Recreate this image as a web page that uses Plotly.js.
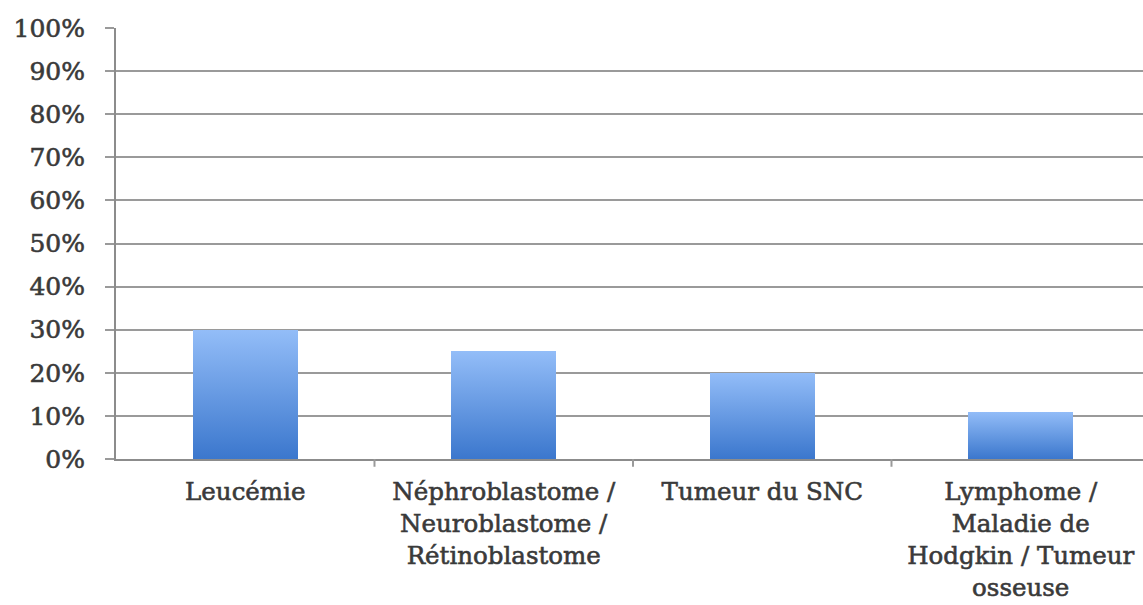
<!DOCTYPE html>
<html>
<head>
<meta charset="utf-8">
<script src="https://cdn.plot.ly/plotly-3.0.1.min.js"></script>
<style>
html,body{margin:0;padding:0;background:#fff;}
#chart{width:1143px;height:605px;}
#chart .xtick text, #chart .ytick text { stroke: #3a3a3a; stroke-width: 0.6px; }
</style>
</head>
<body>
<div id="chart"></div>
<script>
const categories = [
  "Leucémie",
  "Néphroblastome /<br>Neuroblastome /<br>Rétinoblastome",
  "Tumeur du SNC",
  "Lymphome /<br>Maladie de<br>Hodgkin / Tumeur<br>osseuse"
];
const values = [0.30, 0.25, 0.20, 0.11];
const yTickVals = [0, 0.1, 0.2, 0.3, 0.4, 0.5, 0.6, 0.7, 0.8, 0.9, 1.0];
const yTickText = ["0%", "10%", "20%", "30%", "40%", "50%", "60%", "70%", "80%", "90%", "100%"];

const yfont = {family: "DejaVu Serif", size: 25, color: "#3a3a3a"};
const xfont = {family: "DejaVu Serif", size: 24.5, color: "#3a3a3a"};

const data = [{
  type: "bar",
  x: [0, 1, 2, 3],
  y: values,
  width: 0.405,
  marker: {color: "#6a9be2", line: {width: 0}},
  hoverinfo: "none"
}];

const layout = {
  width: 1143, height: 605,
  margin: {l: 116, r: 0, t: 28, b: 146},
  paper_bgcolor: "#ffffff",
  plot_bgcolor: "#ffffff",
  showlegend: false,
  bargap: 0,
  font: yfont,
  xaxis: {
    range: [-0.5, 3.473],
    tickmode: "array",
    tickvals: [0, 1, 2, 3],
    ticktext: categories,
    showgrid: false,
    zeroline: false,
    showline: true,
    linecolor: "#8c8c8c",
    linewidth: 2,
    ticks: "",
    ticklabelstandoff: 10,
    tickfont: xfont,
    fixedrange: true
  },
  yaxis: {
    range: [0, 1],
    tickmode: "array",
    tickvals: yTickVals,
    ticktext: yTickText,
    showgrid: true,
    gridcolor: "#9a9a9a",
    gridwidth: 2,
    zeroline: false,
    showline: true,
    linecolor: "#8c8c8c",
    linewidth: 2,
    ticks: "outside",
    ticklen: 9,
    tickwidth: 2,
    tickcolor: "#9a9a9a",
    ticklabelstandoff: 15,
    tickfont: yfont,
    fixedrange: true
  },
  shapes: [0.5, 1.5, 2.5, 3.5].map(v => ({
    type: "line", xref: "x", yref: "paper", x0: v, x1: v, y0: 0, y1: -0.018,
    line: {color: "#9a9a9a", width: 2}
  }))
};

Plotly.newPlot("chart", data, layout, {staticPlot: true, displayModeBar: false}).then(gd => {
  const svg = gd.querySelector("svg.main-svg");
  const ns = "http://www.w3.org/2000/svg";
  let defs = svg.querySelector("defs");
  if (!defs) { defs = document.createElementNS(ns, "defs"); svg.insertBefore(defs, svg.firstChild); }
  const grad = document.createElementNS(ns, "linearGradient");
  grad.setAttribute("id", "barGrad");
  grad.setAttribute("x1", "0"); grad.setAttribute("y1", "0");
  grad.setAttribute("x2", "0"); grad.setAttribute("y2", "1");
  [["0", "#93bdf8"], ["1", "#3b77cd"]].forEach(([o, c]) => {
    const s = document.createElementNS(ns, "stop");
    s.setAttribute("offset", o); s.setAttribute("stop-color", c);
    grad.appendChild(s);
  });
  defs.appendChild(grad);
  gd.querySelectorAll("g.trace.bars g.point path").forEach(p => {
    p.style.fill = "url(#barGrad)";
  });
});
</script>
</body>
</html>
